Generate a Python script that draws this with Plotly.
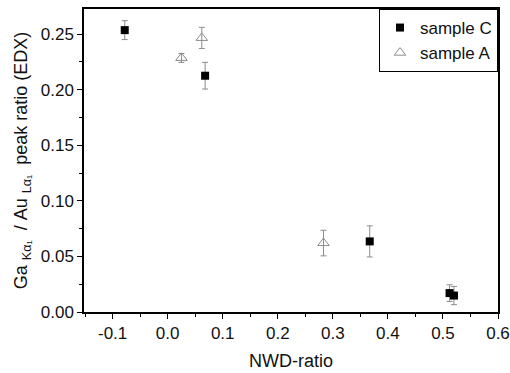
import plotly.graph_objects as go

# sample C (filled squares)
c_x = [-0.078, 0.068, 0.367, 0.512, 0.520]
c_y = [0.2535, 0.2125, 0.0635, 0.0170, 0.0148]
c_err = [0.0085, 0.012, 0.0140, 0.0075, 0.0082]

# sample A (open triangles)
a_x = [0.025, 0.062, 0.283]
a_y = [0.2285, 0.2465, 0.0620]
a_err = [0.004, 0.0095, 0.0115]

x_tickvals = [-0.1, 0.0, 0.1, 0.2, 0.3, 0.4, 0.5, 0.6]
x_ticktext = ["-0.1", "0.0", "0.1", "0.2", "0.3", "0.4", "0.5", "0.6"]

x_title = "NWD-ratio"
y_title = "Ga <sub>Kα₁</sub>  / Au <sub>Lα₁</sub>  peak ratio (EDX)"

FONT = "Liberation Sans, Arial, sans-serif"

fig = go.Figure()
fig.add_trace(go.Scatter(
    x=c_x, y=c_y, mode="markers", name="sample C",
    marker=dict(symbol="square", size=8, color="black"),
    error_y=dict(type="data", array=c_err, visible=True, color="#8c8c8c", thickness=1, width=3),
))
fig.add_trace(go.Scatter(
    x=a_x, y=a_y, mode="markers", name="sample A",
    marker=dict(symbol="triangle-up-open", size=10, color="#8c8c8c", line=dict(width=1)),
    error_y=dict(type="data", array=a_err, visible=True, color="#8c8c8c", thickness=1, width=3),
))

axis_common = dict(
    showline=True, linecolor="black", linewidth=1.5, mirror=True,
    ticks="outside", ticklen=5, tickwidth=1.2, tickcolor="black",
    showgrid=False, zeroline=False, automargin=False,
    tickfont=dict(family=FONT, size=17, color="#111"),
)

fig.update_xaxes(
    range=[-0.152, 0.6], tickmode="array", tickvals=x_tickvals, ticktext=x_ticktext,
    minor=dict(dtick=0.05, tick0=0, ticks="outside", ticklen=3, tickcolor="black", tickwidth=1),
    title=dict(text=x_title, font=dict(family=FONT, size=18, color="#111"), standoff=12),
    **axis_common,
)
fig.update_yaxes(
    range=[0, 0.2725], dtick=0.05, tick0=0, tickformat=".2f",
    minor=dict(dtick=0.025, ticks="outside", ticklen=3, tickcolor="black", tickwidth=1),
    title=dict(text=y_title, font=dict(family=FONT, size=18, color="#111"), standoff=8),
    **axis_common,
)

fig.update_layout(
    width=510, height=373,
    margin=dict(l=84, r=12, t=9, b=61),
    plot_bgcolor="white", paper_bgcolor="white",
    font=dict(family=FONT, size=17, color="#111"),
    legend=dict(
        x=1, y=1, xanchor="right", yanchor="top",
        bordercolor="black", borderwidth=1, bgcolor="white",
        font=dict(family=FONT, size=17, color="#111"),
        itemwidth=30, tracegroupgap=0,
    ),
)

fig.write_html("out.html", config={"displayModeBar": False},
               post_script="document.body.style.margin='0';")
